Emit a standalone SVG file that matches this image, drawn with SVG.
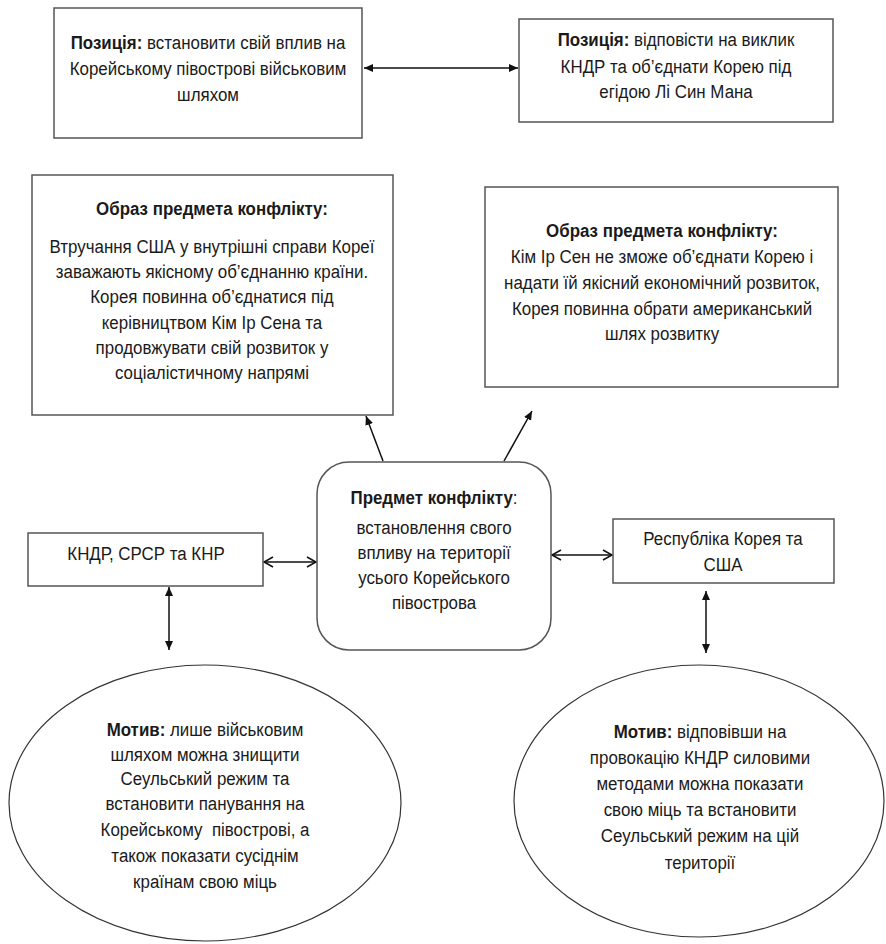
<svg xmlns="http://www.w3.org/2000/svg" width="886" height="944" viewBox="0 0 886 944">
<style>
.box{fill:#fff;stroke:#555;stroke-width:1.5}
.ell{fill:#fff;stroke:#333;stroke-width:1.2}
.t{font-family:"Liberation Sans",Arial,sans-serif;font-size:19px;fill:#1a1a1a;text-anchor:middle}
.b{font-weight:bold}
.c{stroke:#111;stroke-width:1.5;fill:none}
</style>
<defs>
<marker id="fe" markerUnits="userSpaceOnUse" markerWidth="10" markerHeight="8" refX="9" refY="4" orient="auto"><path d="M0,0 L9,4 L0,8 Z" fill="#111"/></marker>
<marker id="fs" markerUnits="userSpaceOnUse" markerWidth="10" markerHeight="8" refX="1" refY="4" orient="auto"><path d="M10,0 L1,4 L10,8 Z" fill="#111"/></marker>
<marker id="oe" markerUnits="userSpaceOnUse" markerWidth="12" markerHeight="12" refX="10" refY="6" orient="auto"><path d="M1,1 L10,6 L1,11" fill="none" stroke="#111" stroke-width="1.5"/></marker>
<marker id="os" markerUnits="userSpaceOnUse" markerWidth="12" markerHeight="12" refX="2" refY="6" orient="auto"><path d="M11,1 L2,6 L11,11" fill="none" stroke="#111" stroke-width="1.5"/></marker>
</defs>
<rect width="886" height="944" fill="#fff"/>
<g id="connectors">
<line class="c" x1="364" y1="68" x2="518" y2="68" marker-start="url(#fs)" marker-end="url(#fe)"/>
<line class="c" x1="383" y1="461" x2="366" y2="416" marker-end="url(#fe)"/>
<line class="c" x1="504" y1="461" x2="532" y2="411" marker-end="url(#fe)"/>
<line class="c" x1="264" y1="562" x2="316" y2="562" marker-start="url(#os)" marker-end="url(#oe)"/>
<line class="c" x1="552" y1="555" x2="612" y2="555" marker-start="url(#os)" marker-end="url(#oe)"/>
<line class="c" x1="169" y1="587" x2="169" y2="650" marker-start="url(#fs)" marker-end="url(#fe)"/>
<line class="c" x1="706" y1="591" x2="706" y2="653" marker-start="url(#fs)" marker-end="url(#fe)"/>
</g>
<g id="pos-left">
<rect class="box" x="54" y="8" width="308" height="130"/>
<g transform="translate(208 0) scale(0.89 1)">
<text class="t" x="0" y="49"><tspan class="b">Позиція:</tspan> встановити свій вплив на</text>
<text class="t" x="0" y="75">Корейському півострові військовим</text>
<text class="t" x="0" y="101">шляхом</text>
</g>
</g>
<g id="pos-right">
<rect class="box" x="519" y="19" width="314" height="103"/>
<g transform="translate(676 0) scale(0.89 1)">
<text class="t" x="0" y="46"><tspan class="b">Позиція:</tspan> відповісти на виклик</text>
<text class="t" x="0" y="73">КНДР та об’єднати Корею під</text>
<text class="t" x="0" y="98">егідою Лі Син Мана</text>
</g>
</g>
<g id="image-left">
<rect class="box" x="32" y="175" width="361" height="240"/>
<g transform="translate(212 0) scale(0.89 1)">
<text class="t b" x="0" y="215">Образ предмета конфлікту:</text>
<text class="t" x="0" y="253">Втручання США у внутрішні справи Кореї</text>
<text class="t" x="0" y="278">заважають якісному об’єднанню країни.</text>
<text class="t" x="0" y="303">Корея повинна об’єднатися під</text>
<text class="t" x="0" y="329">керівництвом Кім Ір Сена та</text>
<text class="t" x="0" y="354">продовжувати свій розвиток у</text>
<text class="t" x="0" y="379">соціалістичному напрямі</text>
</g>
</g>
<g id="image-right">
<rect class="box" x="485" y="187" width="353" height="200"/>
<g transform="translate(662 0) scale(0.89 1)">
<text class="t b" x="0" y="237">Образ предмета конфлікту:</text>
<text class="t" x="0" y="263">Кім Ір Сен не зможе об’єднати Корею і</text>
<text class="t" x="0" y="289">надати їй якісний економічний розвиток,</text>
<text class="t" x="0" y="315">Корея повинна обрати американський</text>
<text class="t" x="0" y="340">шлях розвитку</text>
</g>
</g>
<g id="subject">
<rect class="box" x="317" y="462" width="234" height="188" rx="32" ry="32"/>
<g transform="translate(434 0) scale(0.89 1)">
<text class="t" x="0" y="504"><tspan class="b">Предмет конфлікту</tspan>:</text>
<text class="t" x="0" y="534">встановлення свого</text>
<text class="t" x="0" y="559">впливу на території</text>
<text class="t" x="0" y="584">усього Корейського</text>
<text class="t" x="0" y="609">півострова</text>
</g>
</g>
<g id="side-left">
<rect class="box" x="28" y="533" width="235" height="53"/>
<g transform="translate(146 0) scale(0.89 1)">
<text class="t" x="0" y="560">КНДР, СРСР та КНР</text>
</g>
</g>
<g id="side-right">
<rect class="box" x="613" y="519" width="221" height="64"/>
<g transform="translate(723 0) scale(0.89 1)">
<text class="t" x="0" y="545">Республіка Корея та</text>
<text class="t" x="0" y="571">США</text>
</g>
</g>
<g id="motive-left">
<ellipse class="ell" cx="205" cy="803" rx="196" ry="138"/>
<g transform="translate(205 0) scale(0.89 1)">
<text class="t" x="0" y="736"><tspan class="b">Мотив:</tspan> лише військовим</text>
<text class="t" x="0" y="761">шляхом можна знищити</text>
<text class="t" x="0" y="785">Сеульський режим та</text>
<text class="t" x="0" y="810">встановити панування на</text>
<text class="t" x="0" y="836">Корейському&#160; півострові, а</text>
<text class="t" x="0" y="862">також показати сусіднім</text>
<text class="t" x="0" y="888">країнам свою міць</text>
</g>
</g>
<g id="motive-right">
<ellipse class="ell" cx="699" cy="801" rx="185" ry="136"/>
<g transform="translate(700 0) scale(0.89 1)">
<text class="t" x="0" y="738"><tspan class="b">Мотив:</tspan> відповівши на</text>
<text class="t" x="0" y="764">провокацію КНДР силовими</text>
<text class="t" x="0" y="790">методами можна показати</text>
<text class="t" x="0" y="816">свою міць та встановити</text>
<text class="t" x="0" y="842">Сеульський режим на цій</text>
<text class="t" x="0" y="869">території</text>
</g>
</g>
</svg>
